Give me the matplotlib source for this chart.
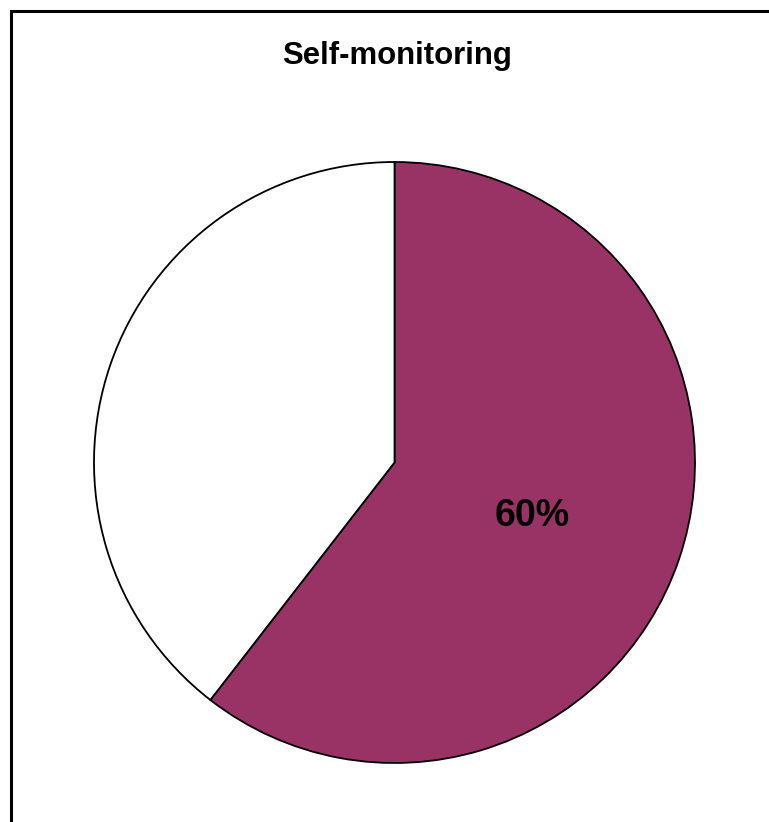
import matplotlib
matplotlib.use("Agg")
import matplotlib.pyplot as plt
from matplotlib.patches import Rectangle
import numpy as np

labels = ["Yes", "No"]
values = [60.5, 39.5]
shown_pct = ["60%", ""]
colors = ["#993366", "#FFFFFF"]
title = "Self-monitoring"

W, H = 769, 822
fig = plt.figure(figsize=(W / 100, H / 100), dpi=100)
fig.patch.set_facecolor("white")

# border frame
fig.patches.append(Rectangle((10.5 / W, -0.1), 1.2, 1 - 10.5 / H + 0.1,
                             transform=fig.transFigure, fill=False,
                             edgecolor="black", linewidth=2.2, clip_on=False))

cx, cy, r = 394.5, 462.5, 300.5
ax = fig.add_axes([(cx - r) / W, (H - cy - r) / H, 2 * r / W, 2 * r / H])
wedges, texts = ax.pie(values, colors=colors, startangle=90, counterclock=False,
                       radius=1.0,
                       wedgeprops=dict(edgecolor="black", linewidth=1.3))
ax.set_xlim(-1, 1)
ax.set_ylim(-1, 1)
ax.set_aspect("equal")
ax.axis("off")

start = 90.0
total = sum(values)
for v, lab in zip(values, shown_pct):
    sweep = 360.0 * v / total
    mid = np.deg2rad(start - sweep / 2)
    if lab:
        ax.text(0.49 * np.cos(mid) - 0.005, 0.49 * np.sin(mid) - 0.02, lab,
                ha="center", va="center",
                fontsize=27, fontweight="bold", family=["Liberation Sans", "DejaVu Sans"])
    start -= sweep

fig.text(397.5 / W, 1 - 56 / H, title, ha="center", va="center", fontsize=22.4,
         fontweight="bold", family=["Liberation Sans", "DejaVu Sans"])

fig.savefig("out.png", dpi=100)
